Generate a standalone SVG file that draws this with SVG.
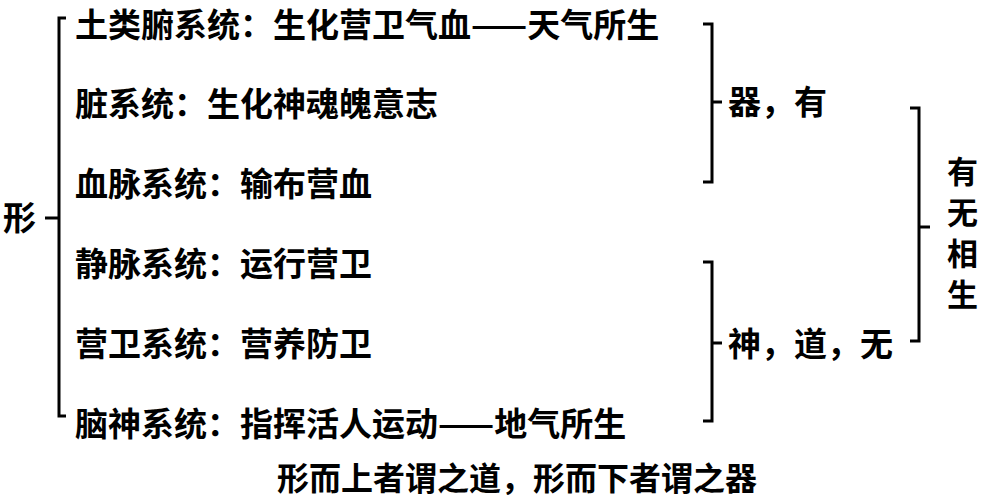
<svg xmlns="http://www.w3.org/2000/svg" width="984" height="500" viewBox="0 0 984 500">
<style>
text{font-family:"Noto Sans CJK SC","Noto Sans CJK JP",sans-serif;font-weight:700;fill:#000}
.t{font-size:33px}
.v{font-size:31px}
.c{font-size:32px}
line,polyline{stroke:#000;stroke-width:3;fill:none}
</style>
<rect width="984" height="500" fill="#fff"/>
<g id="connectors">
<polyline points="66,18 59,18 59,416 66,416"/>
<line x1="45" y1="218" x2="59" y2="218"/>
<polyline points="703,24 712,24 712,182 703,182"/>
<line x1="712" y1="102" x2="722" y2="102"/>
<polyline points="703,262 712,262 712,421 703,421"/>
<line x1="712" y1="343" x2="722" y2="343"/>
<polyline points="910,108 919,108 919,341 910,341"/>
<line x1="919" y1="227" x2="930" y2="227"/>
</g>
<g id="xing"><text class="t" x="3" y="230">形</text></g>
<g id="n1"><text class="t" x="75" y="37">土类腑系统：生化营卫气血——天气所生</text></g>
<g id="n2"><text class="t" x="75" y="116">脏系统：生化神魂魄意志</text></g>
<g id="n3"><text class="t" x="75" y="196">血脉系统：输布营血</text></g>
<g id="n4"><text class="t" x="75" y="276">静脉系统：运行营卫</text></g>
<g id="n5"><text class="t" x="75" y="356">营卫系统：营养防卫</text></g>
<g id="n6"><text class="t" x="75" y="436">脑神系统：指挥活人运动——地气所生</text></g>
<g id="qi"><text class="t" x="728" y="114">器，有</text></g>
<g id="shen"><text class="t" x="728" y="356">神，道，无</text></g>
<g id="youwu"><text class="v" x="947" y="183">有</text><text class="v" x="947" y="224">无</text><text class="v" x="947" y="265">相</text><text class="v" x="947" y="306">生</text></g>
<g id="caption"><text class="c" x="517" y="490" text-anchor="middle">形而上者谓之道，形而下者谓之器</text></g>
</svg>
